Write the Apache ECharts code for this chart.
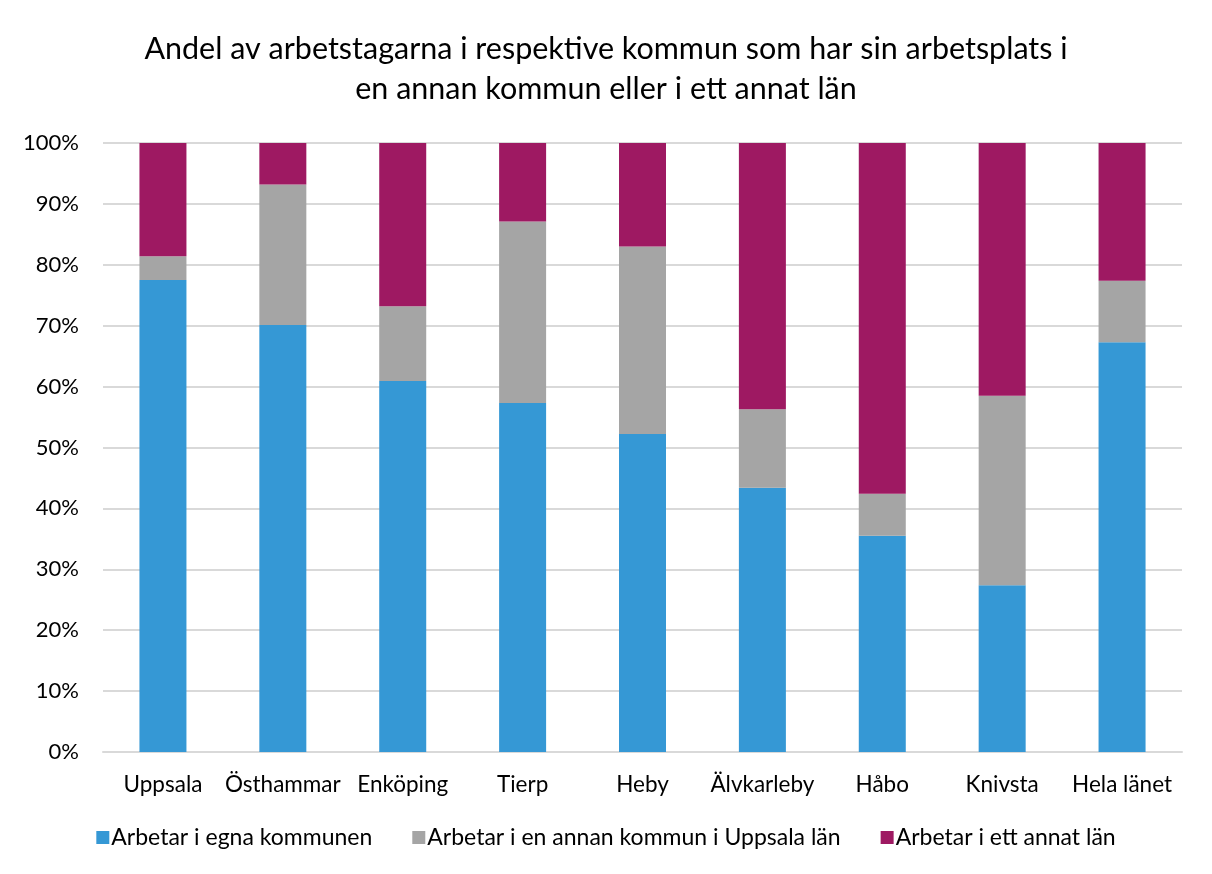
<!DOCTYPE html>
<html>
<head>
<meta charset="utf-8">
<script src="https://cdn.jsdelivr.net/npm/echarts@6/dist/echarts.min.js"></script>
<style>
html,body{margin:0;padding:0;background:#fff;}
#chart{width:1212px;height:874px;}
</style>
</head>
<body>
<div id="chart"></div>
<script>
var kommuner = ['Uppsala', 'Östhammar', 'Enköping', 'Tierp', 'Heby', 'Älvkarleby', 'Håbo', 'Knivsta', 'Hela länet'];
// andelar i procent
var egnaKommunen = [77.5, 70.1, 60.9, 57.3, 52.2, 43.4, 35.5, 27.4, 67.3];
var annanKommunLan = [3.9, 23.1, 12.3, 29.8, 30.8, 12.9, 6.9, 31.1, 10.1];
var annatLan = [18.6, 6.8, 26.8, 12.9, 17.0, 43.7, 57.6, 41.5, 22.6];
var yTicks = [0, 10, 20, 30, 40, 50, 60, 70, 80, 90, 100];

var font = 'Lato, "Noto Sans", sans-serif';
var chart = echarts.init(document.getElementById('chart'));

var option = {
    animation: false,
    title: {
        text: 'Andel av arbetstagarna i respektive kommun som har sin arbetsplats i\nen annan kommun eller i ett annat län',
        left: 'center',
        top: 24,
        textStyle: {
            fontFamily: font,
            fontWeight: 'normal',
            fontSize: 30.5,
            lineHeight: 40,
            color: '#000'
        }
    },
    legend: {
        bottom: 20,
        left: 'center',
        itemWidth: 13,
        itemHeight: 13,
        itemGap: 40,
        icon: 'rect',
        textStyle: {
            fontFamily: font,
            fontSize: 23,
            color: '#000',
            padding: [0, 0, 0, -3]
        }
    },
    grid: {
        left: 103,
        right: 30,
        top: 143,
        bottom: 122
    },
    xAxis: {
        type: 'category',
        data: kommuner,
        axisTick: {show: false},
        axisLine: {lineStyle: {color: '#d9d9d9', width: 2}},
        axisLabel: {
            fontFamily: font,
            fontSize: 22.5,
            color: '#000',
            margin: 21,
            interval: 0
        }
    },
    yAxis: {
        type: 'value',
        min: yTicks[0],
        max: yTicks[yTicks.length - 1],
        interval: 10,
        axisLine: {show: false},
        axisTick: {show: false},
        splitLine: {lineStyle: {color: '#d9d9d9', width: 2}},
        axisLabel: {
            formatter: '{value}%',
            fontFamily: font,
            fontSize: 22,
            color: '#000',
            margin: 24
        }
    },
    series: [
        {
            name: 'Arbetar i egna kommunen',
            type: 'bar',
            stack: 'total',
            barWidth: 47,
            itemStyle: {color: '#3598d5'},
            data: egnaKommunen
        },
        {
            name: 'Arbetar i en annan kommun i Uppsala län',
            type: 'bar',
            stack: 'total',
            barWidth: 47,
            itemStyle: {color: '#a5a5a5'},
            data: annanKommunLan
        },
        {
            name: 'Arbetar i ett annat län',
            type: 'bar',
            stack: 'total',
            barWidth: 47,
            itemStyle: {color: '#9e1962'},
            data: annatLan
        }
    ]
};

chart.setOption(option);
</script>
</body>
</html>
